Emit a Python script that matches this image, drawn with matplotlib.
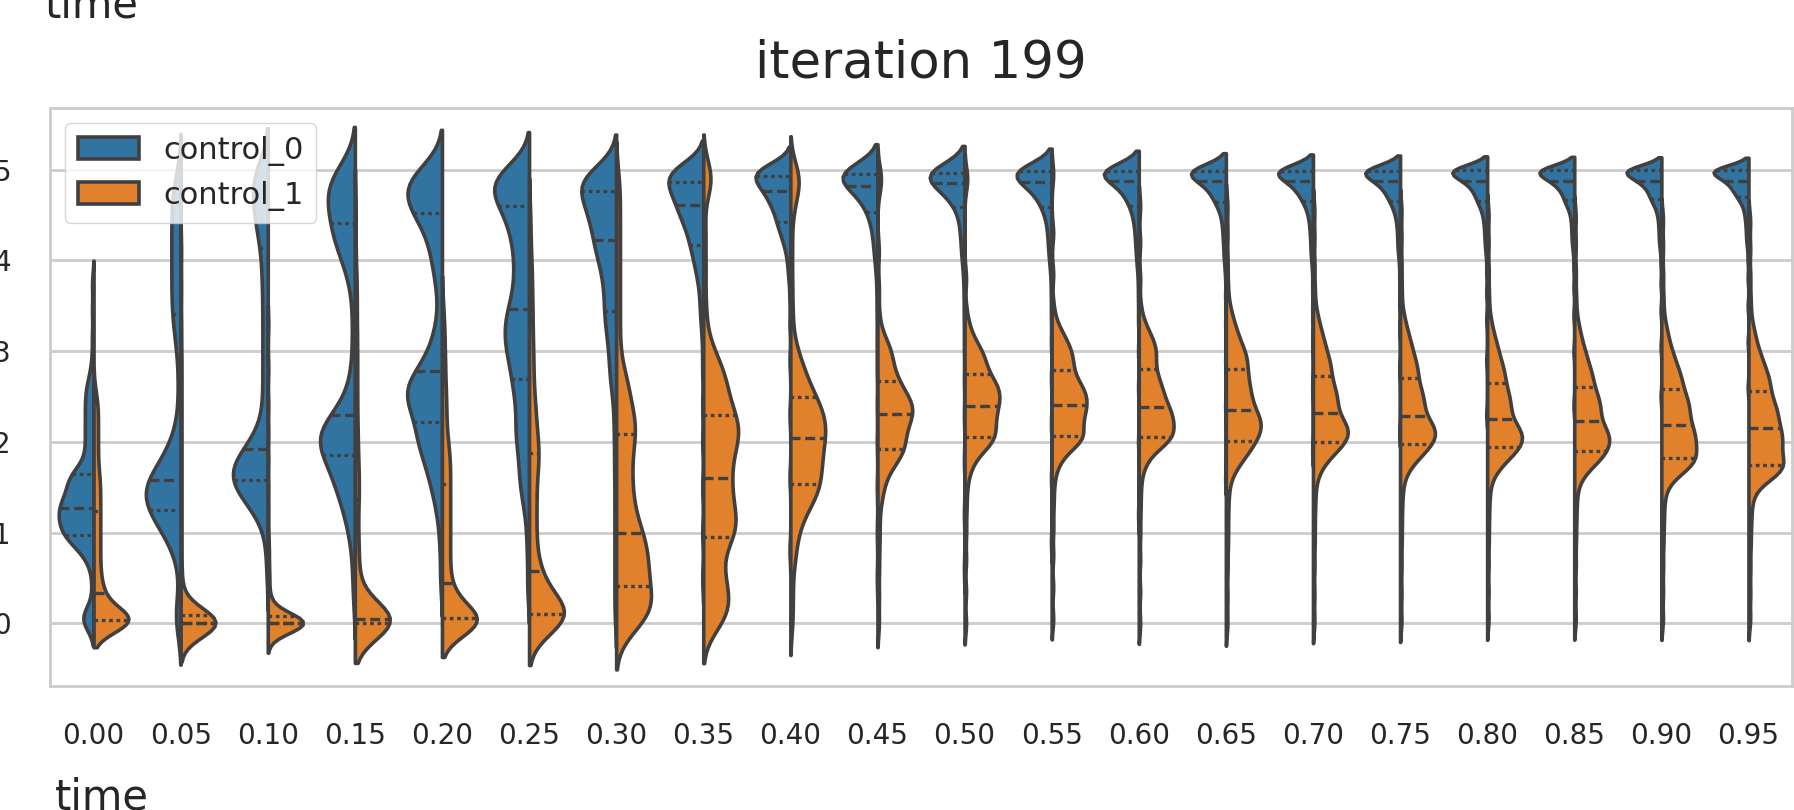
import numpy as np
import pandas as pd
import matplotlib
matplotlib.use("Agg")
import matplotlib.pyplot as plt
import seaborn as sns

# time steps shown on the x axis
times = ["0.00", "0.05", "0.10", "0.15", "0.20", "0.25", "0.30", "0.35", "0.40", "0.45",
         "0.50", "0.55", "0.60", "0.65", "0.70", "0.75", "0.80", "0.85", "0.90", "0.95"]

# control_0 samples per time step, as (value, count) pairs
control_0 = [
    [(0.0, 3), (0.06, 3), (0.14, 2), (0.4, 1), (0.6, 1), (0.72, 2), (0.82, 3), (0.9, 4), (0.97, 7),
     (1.07, 8), (1.17, 8), (1.27, 9), (1.37, 7), (1.47, 6), (1.57, 5), (1.65, 7), (1.8, 3), (1.95, 3),
     (2.1, 3), (2.25, 3), (2.4, 3), (2.55, 3), (2.7, 2), (2.9, 1), (3.15, 1), (3.45, 1), (3.75, 1)],
    [(0.0, 2), (0.1, 2), (0.25, 1), (0.6, 1), (0.8, 2), (0.95, 3), (1.05, 4), (1.15, 5), (1.25, 6),
     (1.35, 7), (1.45, 8), (1.52, 5), (1.58, 5), (1.68, 5), (1.8, 4), (1.92, 3), (2.05, 2), (2.2, 1),
     (2.4, 1), (2.6, 1), (2.8, 1), (3.0, 1), (3.12, 1), (3.24, 2), (3.38, 2), (3.5, 2), (3.62, 2),
     (3.74, 2), (3.86, 2), (3.98, 2), (4.1, 2), (4.22, 2), (4.34, 2), (4.46, 2), (4.58, 2), (4.7, 2),
     (4.82, 2), (4.94, 1)],
    [(0.6, 1), (0.9, 1), (1.1, 1), (1.25, 3), (1.35, 4), (1.45, 6), (1.52, 5), (1.58, 5), (1.66, 7),
     (1.74, 8), (1.82, 5), (1.92, 5), (2.05, 3), (2.2, 2), (2.4, 2), (2.6, 2), (2.8, 2), (3.0, 2),
     (3.2, 2), (3.4, 2), (3.6, 2), (3.8, 2), (3.95, 2), (4.14, 2), (4.3, 3), (4.42, 3), (4.54, 3),
     (4.66, 3), (4.76, 3), (4.86, 3), (4.94, 3), (5.0, 3)],
    [(0.3, 1), (0.6, 1), (0.85, 1), (1.05, 2), (1.2, 2), (1.35, 3), (1.5, 4), (1.62, 4), (1.74, 4),
     (1.86, 4), (1.96, 6), (2.05, 7), (2.14, 6), (2.22, 3), (2.3, 3), (2.45, 2), (2.65, 2), (2.9, 1),
     (3.15, 1), (3.4, 1), (3.65, 1), (3.85, 2), (4.0, 2), (4.12, 3), (4.22, 3), (4.3, 3), (4.39, 3),
     (4.48, 3), (4.58, 4), (4.68, 4), (4.78, 4), (4.86, 4), (4.94, 3), (5.0, 3)],
    [(0.5, 1), (0.9, 1), (1.15, 1), (1.35, 2), (1.55, 3), (1.72, 3), (1.88, 4), (2.0, 4), (2.12, 4),
     (2.22, 3), (2.35, 5), (2.48, 6), (2.58, 6), (2.68, 5), (2.78, 3), (2.9, 3), (3.05, 2), (3.2, 2),
     (3.4, 1), (3.6, 1), (3.8, 2), (3.98, 2), (4.12, 2), (4.24, 2), (4.34, 2), (4.43, 2), (4.52, 4),
     (4.62, 5), (4.72, 5), (4.82, 5), (4.9, 4), (4.97, 3), (5.02, 2)],
    [(0.4, 1), (0.8, 1), (1.1, 1), (1.3, 1), (1.45, 2), (1.6, 2), (1.75, 2), (1.9, 2), (2.05, 3),
     (2.2, 3), (2.35, 2), (2.5, 3), (2.62, 2), (2.72, 3), (2.85, 3), (2.98, 4), (3.1, 4), (3.22, 4),
     (3.34, 4), (3.46, 4), (3.6, 3), (3.75, 3), (3.9, 3), (4.05, 3), (4.2, 3), (4.32, 3), (4.43, 3),
     (4.52, 2), (4.6, 4), (4.7, 5), (4.8, 5), (4.88, 5), (4.95, 4), (5.02, 3)],
    [(0.1, 1), (0.4, 1), (0.7, 1), (1.0, 1), (1.3, 1), (1.6, 1), (1.85, 1), (2.1, 1), (2.3, 1),
     (2.5, 1), (2.65, 2), (2.8, 2), (2.95, 2), (3.08, 2), (3.2, 2), (3.32, 3), (3.44, 3), (3.57, 3),
     (3.7, 3), (3.82, 3), (3.93, 3), (4.03, 4), (4.13, 4), (4.23, 5), (4.33, 4), (4.43, 5), (4.52, 5),
     (4.6, 5), (4.68, 4), (4.76, 6), (4.84, 7), (4.91, 7), (4.97, 4), (5.02, 2)],
    [(0.5, 1), (1.0, 1), (1.5, 1), (2.0, 1), (2.4, 1), (2.8, 1), (3.1, 1), (3.35, 2), (3.55, 2),
     (3.72, 2), (3.86, 3), (3.98, 3), (4.08, 3), (4.17, 4), (4.26, 4), (4.35, 4), (4.43, 5), (4.5, 5),
     (4.56, 4), (4.61, 4), (4.67, 5), (4.72, 5), (4.77, 5), (4.82, 4), (4.86, 5), (4.91, 6), (4.96, 6),
     (5.0, 7), (5.04, 5)],
    [(0.8, 1), (1.6, 1), (2.3, 1), (2.9, 1), (3.3, 1), (3.6, 1), (3.85, 2), (4.02, 2), (4.15, 3),
     (4.25, 3), (4.33, 4), (4.42, 6), (4.5, 4), (4.57, 5), (4.63, 5), (4.68, 5), (4.72, 3), (4.76, 4),
     (4.8, 6), (4.84, 6), (4.88, 6), (4.93, 6), (4.97, 9), (5.0, 10), (5.03, 5)],
    [(0.5, 1), (1.0, 1), (1.5, 1), (2.0, 1), (2.4, 1), (2.8, 1), (3.1, 1), (3.4, 1), (3.65, 1),
     (3.85, 1), (4.0, 2), (4.12, 2), (4.22, 2), (4.31, 2), (4.39, 2), (4.46, 3), (4.53, 3), (4.6, 4),
     (4.66, 4), (4.71, 4), (4.75, 4), (4.79, 4), (4.82, 5), (4.86, 6), (4.89, 6), (4.92, 6), (4.95, 6),
     (4.97, 6), (4.99, 10), (5.0, 9)],
    [(0.6, 1), (1.2, 1), (1.8, 1), (2.3, 1), (2.7, 1), (3.05, 1), (3.35, 1), (3.6, 1), (3.8, 1),
     (3.97, 2), (4.1, 2), (4.2, 2), (4.3, 2), (4.38, 2), (4.45, 2), (4.52, 2), (4.59, 3), (4.65, 4),
     (4.7, 4), (4.74, 4), (4.78, 4), (4.82, 5), (4.85, 6), (4.88, 6), (4.91, 6), (4.94, 6), (4.96, 4),
     (4.98, 10), (5.0, 15)],
    [(0.9, 1), (1.6, 1), (2.2, 1), (2.7, 1), (3.1, 1), (3.4, 1), (3.65, 1), (3.85, 1), (4.0, 2),
     (4.12, 2), (4.22, 2), (4.31, 2), (4.39, 2), (4.46, 2), (4.53, 3), (4.59, 3), (4.65, 4), (4.7, 4),
     (4.74, 4), (4.78, 4), (4.82, 4), (4.86, 6), (4.89, 6), (4.92, 6), (4.95, 6), (4.97, 4), (4.99, 10),
     (5.0, 16)],
    [(1.2, 1), (2.0, 1), (2.6, 1), (3.0, 1), (3.35, 1), (3.6, 1), (3.8, 1), (3.97, 2), (4.1, 2),
     (4.2, 2), (4.29, 2), (4.37, 2), (4.44, 2), (4.5, 2), (4.55, 2), (4.6, 3), (4.66, 4), (4.71, 4),
     (4.75, 4), (4.79, 4), (4.83, 4), (4.87, 6), (4.9, 6), (4.93, 6), (4.96, 5), (4.98, 4), (4.99, 6),
     (5.0, 21)],
    [(1.6, 1), (2.4, 1), (2.9, 1), (3.3, 1), (3.6, 1), (3.85, 1), (4.02, 2), (4.15, 2), (4.26, 2),
     (4.35, 2), (4.43, 2), (4.5, 2), (4.55, 2), (4.6, 2), (4.64, 4), (4.69, 4), (4.73, 4), (4.77, 4),
     (4.81, 4), (4.84, 4), (4.87, 6), (4.9, 6), (4.93, 6), (4.96, 5), (4.98, 4), (4.99, 6), (5.0, 21)],
    [(1.9, 1), (2.6, 1), (3.1, 1), (3.45, 1), (3.7, 1), (3.9, 1), (4.05, 2), (4.17, 2), (4.28, 2),
     (4.37, 2), (4.45, 2), (4.51, 2), (4.56, 2), (4.61, 2), (4.65, 4), (4.7, 4), (4.74, 4), (4.78, 4),
     (4.81, 4), (4.84, 4), (4.87, 6), (4.9, 6), (4.93, 6), (4.96, 5), (4.98, 4), (4.99, 6), (5.0, 21)],
    [(2.1, 1), (2.8, 1), (3.25, 1), (3.55, 1), (3.8, 1), (3.97, 1), (4.1, 2), (4.21, 2), (4.31, 2),
     (4.4, 2), (4.47, 2), (4.53, 2), (4.57, 2), (4.62, 2), (4.65, 4), (4.7, 4), (4.74, 4), (4.78, 4),
     (4.81, 4), (4.84, 4), (4.87, 6), (4.9, 6), (4.93, 6), (4.96, 5), (4.98, 4), (4.99, 6), (5.0, 21)],
    [(2.3, 1), (2.9, 1), (3.35, 1), (3.65, 1), (3.88, 1), (4.03, 1), (4.15, 2), (4.26, 2), (4.35, 2),
     (4.43, 2), (4.5, 2), (4.55, 2), (4.59, 2), (4.63, 2), (4.66, 4), (4.71, 4), (4.75, 4), (4.79, 4),
     (4.82, 4), (4.85, 4), (4.88, 6), (4.91, 6), (4.94, 6), (4.96, 4), (4.98, 4), (5.0, 28)],
    [(2.4, 1), (3.0, 1), (3.4, 1), (3.7, 1), (3.92, 1), (4.07, 1), (4.18, 2), (4.28, 2), (4.37, 2),
     (4.45, 2), (4.52, 2), (4.57, 2), (4.61, 2), (4.64, 2), (4.67, 4), (4.72, 4), (4.76, 4), (4.8, 4),
     (4.83, 4), (4.86, 4), (4.88, 6), (4.91, 6), (4.94, 6), (4.96, 4), (4.98, 4), (5.0, 28)],
    [(2.5, 1), (3.05, 1), (3.45, 1), (3.75, 1), (3.96, 1), (4.1, 1), (4.2, 2), (4.3, 2), (4.39, 2),
     (4.47, 2), (4.53, 2), (4.58, 2), (4.62, 2), (4.65, 2), (4.68, 4), (4.72, 4), (4.76, 4), (4.8, 4),
     (4.83, 4), (4.86, 4), (4.88, 6), (4.91, 6), (4.94, 6), (4.96, 4), (4.98, 4), (5.0, 28)],
    [(2.6, 1), (3.1, 1), (3.5, 1), (3.8, 1), (4.0, 1), (4.13, 1), (4.23, 2), (4.33, 2), (4.42, 2),
     (4.49, 2), (4.55, 2), (4.6, 2), (4.64, 2), (4.67, 2), (4.7, 4), (4.74, 4), (4.77, 4), (4.8, 4),
     (4.83, 4), (4.86, 4), (4.88, 6), (4.91, 6), (4.94, 6), (4.96, 4), (4.98, 4), (5.0, 28)],
]

# control_1 samples per time step, same layout
control_1 = [
    [(0.0, 22), (0.04, 10), (0.1, 8), (0.17, 5), (0.25, 3), (0.33, 4), (0.42, 3), (0.52, 3), (0.64, 3),
     (0.76, 3), (0.88, 3), (1.0, 3), (1.12, 3), (1.24, 3), (1.36, 3), (1.48, 3), (1.6, 3), (1.72, 2),
     (1.84, 2), (1.96, 2), (2.08, 2), (2.2, 2), (2.32, 2), (2.44, 2), (2.56, 1)],
    [(-0.12, 3), (-0.08, 5), (-0.04, 8), (0.0, 42), (0.04, 10), (0.08, 7), (0.13, 4), (0.2, 2),
     (0.3, 2), (0.45, 1), (0.6, 1), (0.8, 1), (1.0, 1), (1.2, 1), (1.4, 1), (1.6, 1), (1.8, 1),
     (2.0, 1), (2.2, 1), (2.4, 1), (2.6, 1), (2.8, 1), (3.0, 1), (3.3, 1), (3.7, 1), (4.1, 1)],
    [(-0.12, 3), (-0.08, 5), (-0.04, 8), (0.0, 44), (0.04, 10), (0.08, 7), (0.13, 4), (0.2, 3),
     (0.3, 2), (0.45, 2), (0.6, 2), (0.8, 2), (1.0, 1), (1.25, 1), (1.5, 1), (1.8, 1), (2.1, 1),
     (2.4, 1), (2.8, 1), (3.3, 1)],
    [(-0.03, 10), (0.0, 20), (0.05, 22), (0.12, 5), (0.2, 3), (0.3, 2), (0.42, 2), (0.55, 2), (0.7, 2),
     (0.85, 2), (1.0, 2), (1.15, 1), (1.27, 1), (1.37, 2), (1.5, 2), (1.65, 2), (1.8, 2), (2.0, 2),
     (2.2, 2), (2.45, 2), (2.7, 2), (2.95, 2), (3.2, 2), (3.5, 2), (3.8, 2), (4.2, 1), (4.6, 1)],
    [(-0.04, 8), (0.0, 18), (0.06, 10), (0.13, 6), (0.2, 3), (0.27, 3), (0.34, 4), (0.45, 3), (0.58, 3),
     (0.7, 3), (0.82, 3), (0.94, 3), (1.06, 3), (1.18, 3), (1.3, 3), (1.42, 3), (1.54, 3), (1.66, 3),
     (1.78, 3), (1.9, 3), (2.02, 2), (2.15, 2), (2.3, 2), (2.45, 2), (2.6, 2), (2.8, 2), (3.0, 2),
     (3.25, 2), (3.5, 1)],
    [(-0.05, 4), (0.02, 8), (0.07, 8), (0.1, 8), (0.16, 6), (0.24, 5), (0.32, 4), (0.42, 3), (0.5, 3),
     (0.58, 3), (0.7, 2), (0.82, 2), (0.94, 2), (1.06, 2), (1.18, 2), (1.3, 2), (1.42, 2), (1.54, 2),
     (1.66, 2), (1.77, 2), (1.88, 4), (2.0, 2), (2.12, 2), (2.24, 2), (2.36, 2), (2.5, 2), (2.7, 2),
     (2.9, 2), (3.1, 2), (3.35, 2), (3.6, 2), (3.9, 2), (4.2, 1), (4.5, 1)],
    [(-0.1, 2), (0.0, 4), (0.1, 5), (0.2, 6), (0.3, 5), (0.41, 4), (0.52, 5), (0.63, 5), (0.74, 4),
     (0.84, 4), (0.92, 3), (1.0, 4), (1.12, 3), (1.24, 3), (1.36, 3), (1.48, 2), (1.6, 3), (1.72, 2),
     (1.84, 3), (1.96, 2), (2.09, 4), (2.2, 3), (2.32, 3), (2.44, 2), (2.56, 2), (2.7, 3), (2.9, 1),
     (3.1, 1), (3.3, 1), (3.5, 1), (3.7, 1), (3.9, 1), (4.1, 1), (4.3, 1), (4.5, 1), (4.7, 1), (4.9, 1)],
    [(-0.05, 2), (0.05, 3), (0.15, 3), (0.25, 3), (0.35, 3), (0.47, 3), (0.6, 3), (0.72, 2), (0.84, 2),
     (0.95, 5), (1.06, 4), (1.17, 4), (1.28, 4), (1.39, 3), (1.5, 3), (1.6, 4), (1.72, 3), (1.84, 4),
     (1.96, 4), (2.06, 4), (2.16, 4), (2.26, 5), (2.4, 4), (2.55, 4), (2.7, 4), (2.85, 3), (3.0, 2),
     (3.2, 1), (3.5, 1), (3.9, 1), (4.3, 1), (4.8, 1), (4.9, 2), (5.0, 1)],
    [(0.0, 1), (0.25, 1), (0.5, 1), (0.75, 2), (0.95, 2), (1.1, 2), (1.22, 3), (1.32, 3), (1.4, 3),
     (1.47, 4), (1.54, 4), (1.64, 5), (1.74, 5), (1.84, 5), (1.93, 5), (2.04, 6), (2.14, 6), (2.24, 6),
     (2.34, 5), (2.43, 4), (2.5, 3), (2.6, 4), (2.72, 3), (2.85, 3), (3.0, 2), (3.2, 1), (3.45, 1),
     (3.75, 1), (4.1, 1), (4.45, 1), (4.7, 2), (4.85, 2), (4.95, 2), (5.02, 1)],
    [(0.0, 1), (0.3, 1), (0.6, 1), (0.85, 1), (1.05, 1), (1.25, 1), (1.42, 2), (1.56, 2), (1.68, 3),
     (1.78, 4), (1.86, 4), (1.92, 5), (2.0, 5), (2.08, 5), (2.16, 5), (2.24, 6), (2.31, 6), (2.38, 6),
     (2.45, 6), (2.52, 5), (2.6, 4), (2.67, 4), (2.76, 4), (2.86, 3), (2.96, 4), (3.06, 3), (3.18, 2),
     (3.4, 1), (3.7, 1), (4.1, 1), (4.8, 1), (4.9, 1), (4.97, 1)],
    [(0.0, 1), (0.35, 1), (0.7, 1), (1.0, 1), (1.25, 1), (1.45, 1), (1.6, 1), (1.72, 2), (1.82, 2),
     (1.9, 3), (1.97, 5), (2.05, 7), (2.13, 5), (2.2, 5), (2.27, 5), (2.34, 5), (2.4, 5), (2.47, 6),
     (2.54, 6), (2.61, 6), (2.68, 5), (2.75, 4), (2.84, 5), (2.94, 5), (3.04, 4), (3.14, 2), (3.26, 2),
     (3.45, 1), (3.8, 1), (4.85, 1), (4.95, 1)],
    [(0.05, 1), (0.4, 1), (0.75, 1), (1.05, 1), (1.3, 1), (1.5, 1), (1.65, 1), (1.77, 2), (1.86, 2),
     (1.93, 3), (2.0, 5), (2.06, 7), (2.14, 5), (2.22, 5), (2.29, 5), (2.35, 5), (2.41, 5), (2.48, 6),
     (2.55, 6), (2.62, 5), (2.7, 5), (2.79, 4), (2.88, 5), (2.98, 5), (3.08, 4), (3.18, 3), (3.3, 2),
     (3.5, 1), (3.85, 1), (4.3, 1), (4.95, 1)],
    [(0.0, 1), (0.35, 1), (0.7, 1), (1.0, 1), (1.25, 1), (1.45, 1), (1.62, 1), (1.75, 2), (1.85, 2),
     (1.92, 3), (1.99, 5), (2.05, 7), (2.12, 6), (2.19, 6), (2.26, 6), (2.32, 5), (2.38, 5), (2.45, 5),
     (2.53, 5), (2.61, 5), (2.7, 5), (2.8, 4), (2.9, 4), (3.0, 5), (3.1, 4), (3.2, 3), (3.32, 2),
     (3.5, 1), (3.8, 1), (4.2, 1), (4.6, 1)],
    [(0.0, 1), (0.3, 1), (0.6, 1), (0.85, 1), (1.05, 1), (1.25, 1), (1.42, 1), (1.56, 1), (1.68, 2),
     (1.78, 3), (1.86, 4), (1.94, 4), (2.01, 5), (2.08, 5), (2.15, 6), (2.22, 6), (2.29, 5), (2.35, 4),
     (2.43, 5), (2.52, 5), (2.61, 5), (2.7, 4), (2.78, 4), (2.88, 5), (2.98, 5), (3.08, 3), (3.18, 3),
     (3.28, 2), (3.4, 2), (3.55, 1), (3.75, 1), (4.0, 1), (4.3, 1), (4.6, 1)],
    [(0.02, 1), (0.32, 1), (0.62, 1), (0.88, 1), (1.1, 1), (1.3, 1), (1.46, 1), (1.6, 1), (1.7, 2),
     (1.8, 3), (1.88, 4), (1.94, 4), (2.0, 5), (2.06, 6), (2.12, 6), (2.18, 6), (2.25, 5), (2.32, 4),
     (2.4, 5), (2.48, 5), (2.56, 5), (2.64, 4), (2.73, 4), (2.83, 5), (2.93, 4), (3.03, 3), (3.13, 3),
     (3.23, 2), (3.35, 2), (3.5, 1), (3.7, 1), (3.95, 1), (4.25, 1), (4.55, 1)],
    [(0.03, 1), (0.33, 1), (0.63, 1), (0.9, 1), (1.12, 1), (1.32, 1), (1.48, 1), (1.6, 1), (1.7, 2),
     (1.79, 3), (1.86, 4), (1.92, 4), (1.98, 5), (2.04, 6), (2.1, 6), (2.16, 6), (2.22, 5), (2.29, 4),
     (2.37, 5), (2.45, 5), (2.53, 5), (2.61, 4), (2.7, 4), (2.8, 5), (2.9, 4), (3.0, 3), (3.1, 3),
     (3.2, 2), (3.32, 2), (3.48, 1), (3.7, 1), (3.95, 1), (4.25, 1), (4.55, 1)],
    [(0.05, 1), (0.35, 1), (0.65, 1), (0.92, 1), (1.14, 1), (1.33, 1), (1.48, 1), (1.6, 1), (1.68, 2),
     (1.76, 3), (1.83, 4), (1.89, 4), (1.94, 5), (2.0, 6), (2.06, 6), (2.12, 6), (2.18, 5), (2.25, 4),
     (2.33, 5), (2.41, 5), (2.49, 5), (2.57, 4), (2.65, 4), (2.75, 5), (2.85, 4), (2.95, 3), (3.05, 3),
     (3.15, 2), (3.28, 2), (3.45, 1), (3.65, 1), (3.9, 1), (4.2, 1), (4.5, 1)],
    [(0.05, 1), (0.35, 1), (0.65, 1), (0.92, 1), (1.13, 1), (1.31, 1), (1.46, 1), (1.57, 1), (1.65, 2),
     (1.73, 3), (1.79, 4), (1.85, 4), (1.9, 5), (1.97, 6), (2.03, 6), (2.1, 6), (2.16, 5), (2.23, 4),
     (2.31, 5), (2.38, 5), (2.46, 5), (2.53, 4), (2.61, 4), (2.71, 5), (2.81, 4), (2.91, 3), (3.01, 3),
     (3.12, 2), (3.25, 2), (3.42, 1), (3.62, 1), (3.88, 1), (4.18, 1), (4.48, 1)],
    [(0.05, 1), (0.35, 1), (0.63, 1), (0.88, 1), (1.08, 1), (1.25, 1), (1.4, 1), (1.51, 1), (1.6, 2),
     (1.67, 3), (1.73, 4), (1.78, 4), (1.82, 5), (1.9, 6), (1.98, 6), (2.06, 6), (2.13, 5), (2.19, 4),
     (2.27, 5), (2.35, 5), (2.43, 5), (2.5, 4), (2.58, 4), (2.68, 5), (2.78, 4), (2.88, 3), (2.98, 3),
     (3.1, 2), (3.23, 2), (3.4, 1), (3.6, 1), (3.85, 1), (4.15, 1), (4.45, 1)],
    [(0.05, 1), (0.33, 1), (0.6, 1), (0.85, 1), (1.05, 1), (1.22, 1), (1.36, 1), (1.47, 1), (1.55, 2),
     (1.62, 3), (1.67, 4), (1.71, 4), (1.75, 5), (1.84, 6), (1.93, 6), (2.02, 6), (2.09, 5), (2.15, 4),
     (2.23, 5), (2.31, 5), (2.39, 5), (2.47, 4), (2.56, 4), (2.66, 5), (2.76, 4), (2.86, 3), (2.96, 3),
     (3.08, 2), (3.21, 2), (3.38, 1), (3.58, 1), (3.83, 1), (4.13, 1), (4.43, 1)],
]

rows = []
for t, c0, c1 in zip(times, control_0, control_1):
    for name, pairs in (("control_0", c0), ("control_1", c1)):
        for v, n in pairs:
            rows += [(t, name, v)] * n
df = pd.DataFrame(rows, columns=["time", "control", "value"])

sns.set_theme(style="whitegrid", palette="tab10")
plt.rcParams.update({
    "axes.linewidth": 2.0,
    "grid.linewidth": 2.0,
    "axes.edgecolor": ".8",
    "grid.color": ".8",
})

fig = plt.figure(figsize=(17.94, 8.1), dpi=100)
ax = fig.add_axes([50 / 1794, 124 / 810, 1742 / 1794, 578 / 810])

sns.violinplot(data=df, x="time", y="value", hue="control", order=times,
               hue_order=["control_0", "control_1"], split=True, inner="quart",
               density_norm="width", bw_method=0.17, cut=2, linewidth=2.6,
               linecolor=".25", ax=ax)

# quartile lines: thicker, median dashed, quartiles dotted (3 lines per half)
for i, line in enumerate(ax.lines):
    line.set_linewidth(2.4)
    line.set_color(".25")
    if i % 3 == 1:
        line.set_dashes((3.0, 1.4))
    else:
        line.set_dashes((1.1, 1.1))

ax.set_ylim(-0.69, 5.68)
ax.set_yticks(range(6))
ax.set_ylabel("")
ax.tick_params(axis="x", labelsize=20, pad=20)
ax.tick_params(axis="y", labelsize=20, pad=22)
ax.set_title("iteration 199", fontsize=37, pad=22, color=".15")
ax.set_xlabel("time", fontsize=30, loc="left", color=".15")
ax.xaxis.set_label_coords(0.003, -0.156)

handles, labels = ax.get_legend_handles_labels()
ax.legend(handles, labels, loc="upper left", fontsize=22)

# label of the panel above, cut by the frame
fig.text(45 / 1794, 1 - 17 / 810, "time", fontsize=30, color=".15", va="baseline")

fig.savefig("out.png", dpi=100)
